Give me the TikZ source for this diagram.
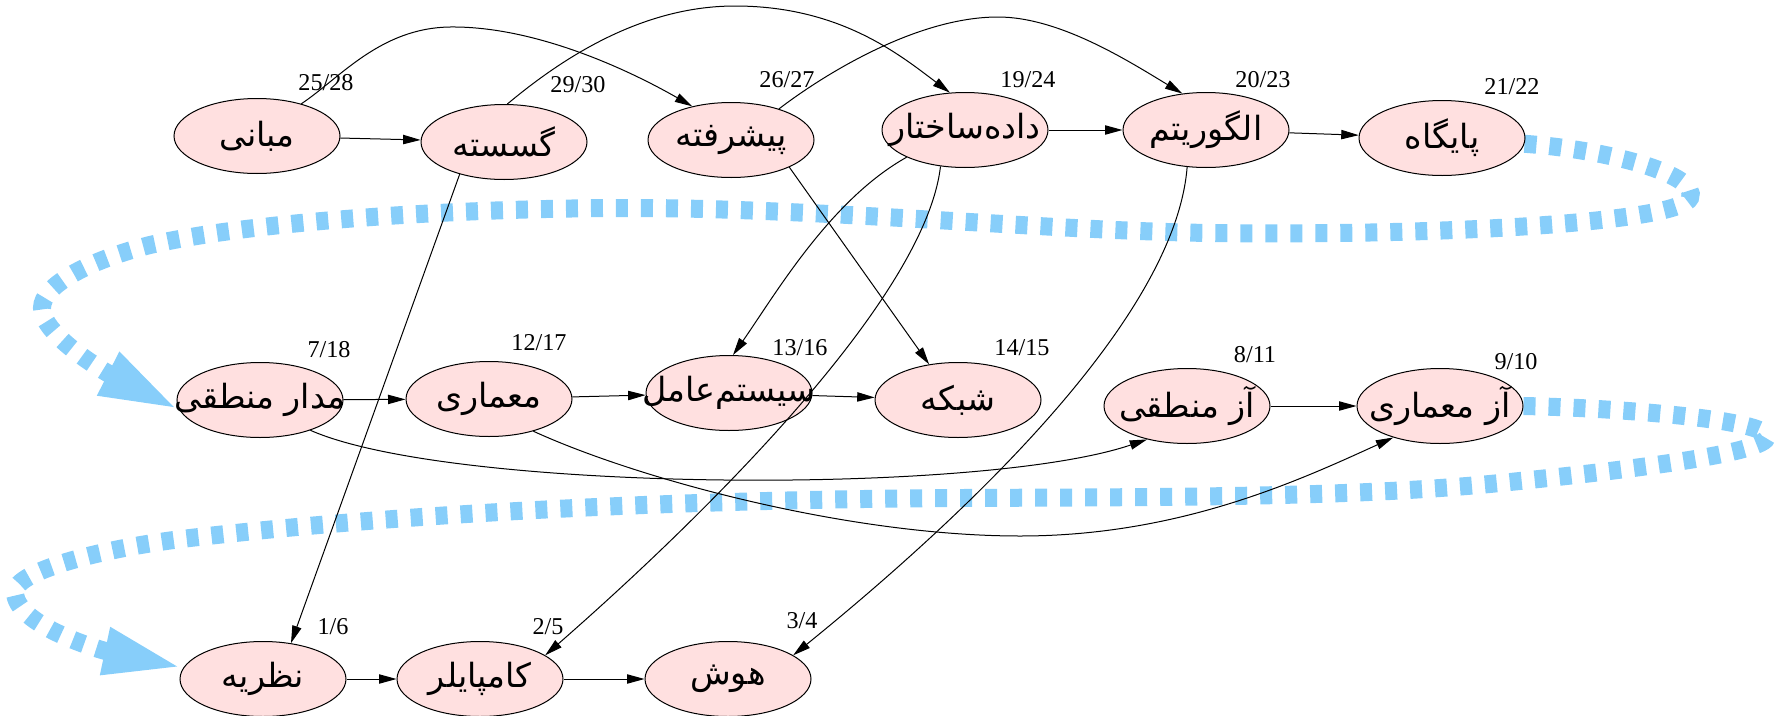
\documentclass[tikz,border=0pt]{standalone}
\usepackage{fontspec}
\setmainfont{Liberation Serif}
\newfontfamily\arabicfont[Script=Arabic]{DejaVu Sans}
\TeXXeTstate=1
\usetikzlibrary{arrows.meta,shapes.geometric}

\definecolor{coursefill}{RGB}{255,224,224}
\definecolor{flowblue}{RGB}{135,206,250}

\pgfdeclarelayer{background}
\pgfsetlayers{background,main}

% right-to-left course title, zero width so the ellipse keeps its size
\newcommand{\farsilabel}[1]{\makebox[0pt]{\beginR #1\endR}}

\tikzset{
  course/.style={ellipse, draw=black, line width=0.6pt, fill=coursefill,
    minimum width=99.6pt, minimum height=45pt, inner sep=0pt,
    font=\arabicfont\fontsize{20}{22}\selectfont},
  tally/.style={inner sep=0pt, font=\fontsize{14.5}{16}\selectfont},
  prereq/.style={draw=black, line width=0.6pt,
    -{Triangle[length=10.5pt,width=5.6pt]}},
  order/.style={draw=flowblue, line width=10.8pt,
    dash pattern=on 7.2pt off 7.8pt,
    -{Triangle[length=48pt,width=26pt]}},
}

\begin{document}
\begin{tikzpicture}[x=0.6pt, y=-0.6pt]
\useasboundingbox (0,0) rectangle (1778,716);

% courses, first row
\node[course] (mab) at (257,136) {\farsilabel{مبانی}};
\node[course] (gas) at (504,142) {\farsilabel{گسسته}};
\node[course] (pis) at (731,140) {\farsilabel{پیشرفته}};
\node[course] (dat) at (965,130) {\farsilabel{داده^^^^200cساختار}};
\node[course] (alg) at (1206,130) {\farsilabel{الگوریتم}};
\node[course] (pay) at (1442,138) {\farsilabel{پایگاه}};

% second row
\node[course] (mad) at (260,400) {\farsilabel{مدار منطقی}};
\node[course] (mem) at (489,399) {\farsilabel{معماری}};
\node[course] (sis) at (729,393) {\farsilabel{سیستم^^^^200cعامل}};
\node[course] (shab) at (958,400) {\farsilabel{شبکه}};
\node[course] (az1) at (1187,406) {\farsilabel{آز منطقی}};
\node[course] (az2) at (1440,406) {\farsilabel{آز معماری}};

% third row
\node[course] (naz) at (263,679) {\farsilabel{نظریه}};
\node[course] (kam) at (480,679) {\farsilabel{کامپایلر}};
\node[course] (hawsh) at (728,679) {\farsilabel{هوش}};

% discovery / finish times
\node[tally] (tmab) at (326,83) {25/28};
\node[tally] (tgas) at (578,85) {29/30};
\node[tally] (tpis) at (787,80) {26/27};
\node[tally] (tdat) at (1028,80) {19/24};
\node[tally] (talg) at (1263,80) {20/23};
\node[tally] (tpay) at (1512,87) {21/22};
\node[tally] (tmad) at (329,350) {7/18};
\node[tally] (tmem) at (539,343) {12/17};
\node[tally] (tsis) at (800,348) {13/16};
\node[tally] (tshab) at (1022,348) {14/15};
\node[tally] (taz1) at (1255,355) {8/11};
\node[tally] (taz2) at (1516,362) {9/10};
\node[tally] (tnaz) at (333,627) {1/6};
\node[tally] (tkam) at (548,627) {2/5};
\node[tally] (thawsh) at (802,621) {3/4};

% topological order, drawn underneath
\begin{pgfonlayer}{background}
\draw[order] (pay.-4) .. controls (1610,150) and (1700,175) .. (1690,198)
  .. controls (1680,222) and (1450,236) .. (1212,233)
  .. controls (1050,231) and (820,208) .. (632,208)
  .. controls (450,208) and (250,222) .. (150,245)
  .. controls (90,260) and (42,285) .. (42,308)
  .. controls (42,335) and (105,372) .. (mad.187);
\draw[order] (az2.0) .. controls (1620,408) and (1770,420) .. (1767,437)
  .. controls (1765,452) and (1650,468) .. (1500,483)
  .. controls (1350,498) and (1150,497) .. (963,498)
  .. controls (750,499) and (450,508) .. (190,538)
  .. controls (110,547) and (15,570) .. (15,592)
  .. controls (15,625) and (100,650) .. (naz.172);
\end{pgfonlayer}

% prerequisites
\draw[prereq] (mab) -- (gas);
\draw[prereq] (dat) -- (alg);
\draw[prereq] (alg) -- (pay);
\draw[prereq] (mad) -- (mem);
\draw[prereq] (mem) -- (sis);
\draw[prereq] (sis) -- (shab);
\draw[prereq] (az1) -- (az2);
\draw[prereq] (naz) -- (kam);
\draw[prereq] (kam) -- (hawsh);

\draw[prereq] (mab.36) .. controls (340,78) and (380,28) .. (450,27)
  .. controls (530,26) and (620,65) .. (pis.139);
\draw[prereq] (gas.85) .. controls (560,60) and (640,6) .. (735,6)
  .. controls (840,6) and (900,55) .. (dat.112);
\draw[prereq] (pis.33) .. controls (830,70) and (920,17) .. (998,17)
  .. controls (1060,17) and (1130,62) .. (alg.123);

\draw[prereq] (gas.216) -- (naz.52);
\draw[prereq] (pis.335) -- (shab.129);
\draw[prereq] (dat.205) .. controls (830,200) and (775,295) .. (sis.84);
\draw[prereq] (dat.236) .. controls (925,300) and (700,520) .. (kam.20);
\draw[prereq] (alg.243) .. controls (1175,320) and (960,520) .. (hawsh.20);

\draw[prereq] (mad.329) .. controls (450,492) and (980,496) .. (az1.220);
\draw[prereq] (mem.324) .. controls (640,480) and (850,536) .. (1020,536)
  .. controls (1180,536) and (1300,480) .. (az2.214);
\end{tikzpicture}
\end{document}
